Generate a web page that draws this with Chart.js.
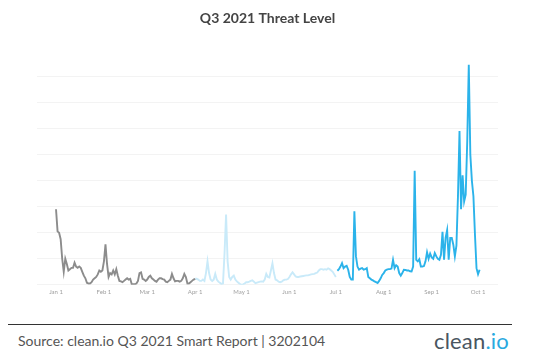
<!DOCTYPE html>
<html>
<head>
<meta charset="utf-8">
<script src="https://cdn.jsdelivr.net/npm/chart.js@4"></script>
<style>
  body { margin: 0; background: #fff; font-family: Lato, "Open Sans", sans-serif; }
  #wrap { position: relative; width: 538px; height: 359px; }
  #chartBox { position: absolute; left: 0; top: 0; width: 538px; height: 299px; }
  #rule { position: absolute; left: 8px; top: 324px; width: 504px; height: 1px; background: #333; }
  #source { position: absolute; left: 18px; top: 332px; font-size: 14px; color: #555; }
  #logo { position: absolute; right: 29px; top: 327px; font-size: 22px; color: #4a5560; letter-spacing: 0.2px; }
  #logo span { color: #29a9e0; }
</style>
</head>
<body>
<div id="wrap">
  <div id="chartBox"><canvas id="threatChart"></canvas></div>
  <div id="rule"></div>
  <div id="source">Source: clean.io Q3 2021 Smart Report | 3202104</div>
  <div id="logo">clean<span>.io</span></div>
</div>
<script>
// day index 0 = Jan 1 2021, one value per day
const monthTicks = [0, 31, 59, 90, 120, 151, 181, 212, 243, 273];
const monthLabels = ['Jan 1', 'Feb 1', 'Mar 1', 'Apr 1', 'May 1', 'Jun 1', 'Jul 1', 'Aug 1', 'Sep 1', 'Oct 1'];

// Q1: Jan 1 - Apr 1
const q1Start = 0;
const q1Values = [
    2.9, 2.05, 2.0, 1.75, 1.0, 0.5, 1.0, 0.8, 0.55, 0.6,
    0.65, 0.65, 0.85, 0.7, 0.65, 0.7, 0.65, 0.5, 0.35, 0.25,
    0.08, 0.05, 0.05, 0.1, 0.2, 0.25, 0.3, 0.4, 0.55, 0.5,
    0.55, 0.9, 1.55, 0.8, 0.3, 0.45, 0.4, 0.55, 0.4, 0.6,
    0.35, 0.15, 0.13, 0.1, 0.15, 0.2, 0.25, 0.2, 0.23, 0.02,
    0.02, 0.02, 0.05, 0.15, 0.45, 0.48, 0.23, 0.2, 0.15, 0.2,
    0.3, 0.35, 0.25, 0.2, 0.15, 0.12, 0.2, 0.25, 0.25, 0.22,
    0.2, 0.12, 0.1, 0.15, 0.2, 0.42, 0.25, 0.13, 0.15, 0.15,
    0.12, 0.15, 0.25, 0.42, 0.3, 0.05, 0.05, 0.1, 0.15, 0.2,
    0.23
];

// Q2: Apr 1 - Jun 30
const q2Start = 90;
const q2Values = [
    0.23, 0.23, 0.2, 0.15, 0.15, 0.2, 0.15, 0.45, 0.9, 0.45,
    0.2, 0.15, 0.2, 0.42, 0.2, 0.12, 0.08, 0.03, 0.05, 1.2,
    2.7, 0.9, 0.3, 0.2, 0.3, 0.35, 0.2, 0.13, 0.08, 0.03,
    0.0, 0.02, 0.05, 0.1, 0.1, 0.12, 0.15, 0.17, 0.12, 0.06,
    0.08, 0.1, 0.12, 0.13, 0.12, 0.2, 0.42, 0.3, 0.28, 0.55,
    0.82, 0.45, 0.2, 0.17, 0.12, 0.1, 0.12, 0.17, 0.2, 0.2,
    0.22, 0.3, 0.4, 0.48, 0.4, 0.32, 0.3, 0.3, 0.32, 0.33,
    0.34, 0.35, 0.36, 0.36, 0.38, 0.4, 0.41, 0.42, 0.45, 0.47,
    0.55, 0.6, 0.6, 0.58, 0.6, 0.58, 0.63, 0.6, 0.55, 0.5,
    0.4, 0.3
];

// Q3: Jul 2 - Oct 2
const q3Start = 182;
const q3Values = [
    0.54, 0.6, 0.7, 0.83, 0.64, 0.7, 0.73, 0.58, 0.3, 0.2,
    0.2, 2.82, 1.1, 0.7, 0.58, 0.62, 0.64, 0.58, 0.6, 0.64,
    0.3, 0.25, 0.2, 0.17, 0.13, 0.1, 0.07, 0.15, 0.25, 0.38,
    0.45, 0.55, 0.58, 0.6, 0.6, 0.62, 0.96, 0.64, 0.75, 0.7,
    0.45, 0.35, 0.45, 0.58, 0.57, 0.55, 0.55, 0.52, 0.51, 0.7,
    4.38, 0.96, 0.9, 0.98, 0.7, 0.7, 0.72, 0.9, 1.25, 1.0,
    1.2, 1.05, 1.0, 1.22, 1.09, 1.0, 0.96, 1.15, 2.03, 0.96,
    1.8, 2.1, 0.96, 1.8, 1.8, 1.54, 1.09, 1.5, 3.4, 5.9,
    2.9, 4.2, 3.2, 3.46, 5.5, 8.45, 5.0, 4.0, 3.4, 1.92,
    0.64, 0.41, 0.58
];

function toPoints(start, values)
{
    return values.map((v, i) => ({ x: start + i, y: v }));
}

const ctx = document.getElementById('threatChart').getContext('2d');
const threatChart = new Chart(ctx, {
    type: 'line',
    data: {
        datasets: [
            { label: 'Q1', data: toPoints(q1Start, q1Values), borderColor: '#8c8c8c' },
            { label: 'Q2', data: toPoints(q2Start, q2Values), borderColor: '#c9eaf9' },
            { label: 'Q3', data: toPoints(q3Start, q3Values), borderColor: '#2bb3ea' }
        ]
    },
    options: {
        responsive: true,
        maintainAspectRatio: false,
        animation: false,
        datasets: {
            line: { borderWidth: 1.9, pointRadius: 0, tension: 0, fill: false }
        },
        layout: { padding: { left: 37, right: 40, bottom: 0 } },
        plugins: {
            legend: { display: false },
            tooltip: { enabled: false },
            title: {
                display: true,
                text: 'Q3 2021 Threat Level',
                color: '#444',
                font: { family: 'Lato', size: 14, weight: 'bold' },
                padding: { top: 10, bottom: 34 }
            }
        },
        scales: {
            x: {
                type: 'linear',
                min: -12.3,
                max: 285.9,
                grid: { display: false, drawTicks: false, tickLength: 0 },
                border: { display: false },
                afterBuildTicks: function(axis) {
                    axis.ticks = monthTicks.map(v => ({ value: v }));
                },
                ticks: {
                    autoSkip: false,
                    maxRotation: 0,
                    padding: 3.5,
                    color: '#a0a0a0',
                    font: { family: 'Lato', size: 6 },
                    callback: function(value) {
                        const k = monthTicks.indexOf(value);
                        return k >= 0 ? monthLabels[k] : '';
                    }
                }
            },
            y: {
                min: 0,
                max: 8.6,
                ticks: { display: false, stepSize: 1, includeBounds: false },
                grid: { color: '#f3f3f3', drawTicks: false },
                border: { display: false }
            }
        }
    }
});
</script>
</body>
</html>
